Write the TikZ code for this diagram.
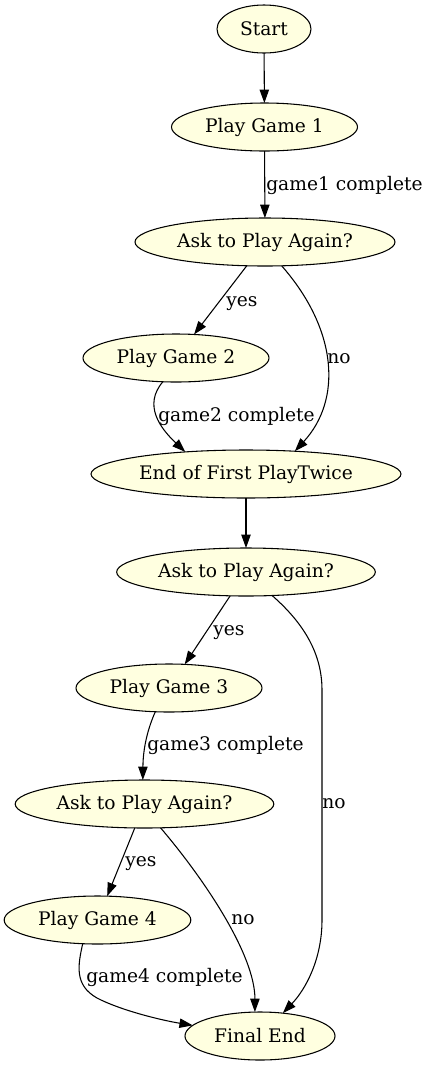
\documentclass[tikz,border=0pt]{standalone}
\usepackage{fontspec}
\setmainfont{DejaVu Serif}
\usetikzlibrary{arrows.meta,shapes.geometric}
\definecolor{nodefill}{HTML}{FFFFE0}
\tikzset{
  gnode/.style={ellipse, draw=black, fill=nodefill, line width=0.8pt, inner sep=0pt, outer sep=0pt,
    minimum height=36pt, font=\fontsize{14pt}{16pt}\selectfont},
  edge/.style={draw=black, line width=0.8pt, -{Triangle[length=10pt,width=7pt]}},
  lbl/.style={inner sep=0pt, anchor=base west, font=\fontsize{14pt}{16pt}\selectfont}
}
\begin{document}
\begin{tikzpicture}[x=0.75pt,y=-0.75pt]
\useasboundingbox (0,0) rectangle (427,1065);
% nodes
\node[gnode, minimum width=70.5pt] (start) at (264,29) {Start};
\node[gnode, minimum width=139.5pt] (pg1) at (264.5,127) {Play Game 1};
\node[gnode, minimum width=195pt] (ask1) at (265,242) {Ask to Play Again?};
\node[gnode, minimum width=139.5pt] (pg2) at (176,358) {Play Game 2};
\node[gnode, minimum width=232.5pt] (end1) at (246,474) {End of First PlayTwice};
\node[gnode, minimum width=194pt] (ask2) at (246,572) {Ask to Play Again?};
\node[gnode, minimum width=139.5pt] (pg3) at (169,688) {Play Game 3};
\node[gnode, minimum width=194pt] (ask3) at (144.5,804) {Ask to Play Again?};
\node[gnode, minimum width=140pt] (pg4) at (97.5,920) {Play Game 4};
\node[gnode, minimum width=112.5pt] (final) at (260,1036) {Final End};
% edges
\draw[edge] (start) -- (pg1);
\draw[edge] (pg1) -- (ask1);
\draw[edge] (ask1) -- (pg2);
\draw[edge] (ask1.305) .. controls (338,330) and (342,400) .. (end1.25);
\draw[edge] (pg2.241) .. controls (143,405) and (160,428) .. (end1.160);
\draw[edge] (end1) -- (ask2);
\draw[edge] (ask2) -- (pg3);
\draw[edge] (ask2.318) .. controls (300,620) and (322,650) .. (322,690) -- (322,920) .. controls (322,960) and (305,990) .. (final.45);
\draw[edge] (pg3.240) .. controls (145,735) and (143,755) .. (ask3.94);
\draw[edge] (ask3) -- (pg4);
\draw[edge] (ask3.304.5) .. controls (205,880) and (255,955) .. (final.102);
\draw[edge] (pg4.238) .. controls (78,965) and (74,985) .. (97,998) .. controls (120,1010) and (160,1020) .. (final.171);
% labels
\node[lbl] (l1) at (266,190) {game1 complete};
\node[lbl] (l2) at (226,306) {yes};
\node[lbl] (l3) at (327,363) {no};
\node[lbl] (l4) at (158,421) {game2 complete};
\node[lbl] (l5) at (213,635) {yes};
\node[lbl] (l6) at (147,750) {game3 complete};
\node[lbl] (l7) at (322,808) {no};
\node[lbl] (l8) at (125,866) {yes};
\node[lbl] (l9) at (231,924) {no};
\node[lbl] (l10) at (86,982) {game4 complete};
\end{tikzpicture}
\end{document}
